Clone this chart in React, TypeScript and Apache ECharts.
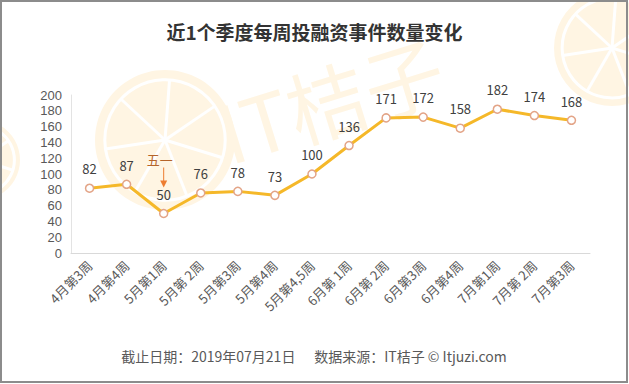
import React, { useEffect, useRef } from "react";
import * as echarts from "echarts";

const categories = [
  "4月第3周", "4月第4周", "5月第1周", "5月第 2周", "5月第3周", "5月第4周", "5月第4,5周",
  "6月第 1周", "6月第 2周", "6月第3周", "6月第4周", "7月第1周", "7月第 2周", "7月第3周",
];
const values = [82, 87, 50, 76, 78, 73, 100, 136, 171, 172, 158, 182, 174, 168];
const yTicks = [0, 20, 40, 60, 80, 100, 120, 140, 160, 180, 200];
const titleText = "近1个季度每周投融资事件数量变化";
const footerText = "截止日期：2019年07月21日      数据来源：IT桔子 © Itjuzi.com";
const noteText = "五一";
const noteIndex = 2;

const FONT = "'Noto Sans CJK SC', 'Noto Sans', sans-serif";
const NUMFONT = "'Liberation Sans', 'DejaVu Sans', sans-serif";
const WM = "#FFF5E3";

function lemon(cx: number, cy: number, r: number) {
  const children: any[] = [
    { type: "circle", shape: { cx, cy, r }, style: { fill: WM }, silent: true },
    { type: "circle", shape: { cx, cy, r: r * 0.86 }, style: { fill: "none", stroke: "#FFFFFF", lineWidth: 3 }, silent: true },
  ];
  for (let i = 0; i < 7; i++) {
    const a = (i / 7) * Math.PI * 2 + 0.3;
    children.push({
      type: "line",
      shape: { x1: cx, y1: cy, x2: cx + Math.cos(a) * r * 0.86, y2: cy + Math.sin(a) * r * 0.86 },
      style: { stroke: "#FFFFFF", lineWidth: 3 },
      silent: true,
    });
  }
  return children;
}

export default function App() {
  const ref = useRef<HTMLDivElement>(null);
  useEffect(() => {
    if (!ref.current) return;
    const chart = echarts.init(ref.current, null, { renderer: "svg" });
    const option: any = {
      animation: false,
      backgroundColor: "#FFFFFF",
      title: {
        text: titleText,
        left: "center",
        top: 17,
        textStyle: { fontFamily: FONT, fontSize: 19, fontWeight: "bold", color: "#333333" },
      },
      grid: { left: 71, right: 39, top: 95, bottom: 131, containLabel: false },
      xAxis: {
        type: "category",
        data: categories,
        boundaryGap: true,
        axisLine: { show: true, lineStyle: { color: "#D9D9D9", width: 1 } },
        axisTick: { show: false },
        axisLabel: {
          rotate: 45,
          interval: 0,
          margin: 10,
          fontFamily: FONT,
          fontSize: 13,
          color: "#595959",
        },
      },
      yAxis: {
        type: "value",
        min: 0,
        max: 200,
        interval: 20,
        axisLine: { show: true, lineStyle: { color: "#E3E3E3", width: 1 } },
        axisTick: { show: false },
        splitLine: { show: false },
        axisLabel: {
          margin: 9,
          fontFamily: NUMFONT,
          fontSize: 13,
          lineHeight: 14,
          color: "#595959",
          formatter: (v: number) => (yTicks.includes(v) ? String(v) : ""),
        },
      },
      series: [
        {
          type: "line",
          data: values,
          symbol: "circle",
          symbolSize: 8,
          showAllSymbol: true,
          lineStyle: { color: "#F5B829", width: 3 },
          itemStyle: { color: "#FFFFFF", borderColor: "#E3A487", borderWidth: 1.5 },
          label: {
            show: true,
            position: "top",
            distance: 8,
            fontFamily: FONT,
            fontSize: 13,
            color: "#404040",
          },
          z: 3,
        },
      ],
    };
    chart.setOption(option);

    const p = chart.convertToPixel({ seriesIndex: 0 }, [noteIndex, values[noteIndex]]) as number[];
    const nx = p[0];
    const ny = p[1];

    chart.setOption({
      graphic: [
        {
          type: "group",
          z: -10,
          silent: true,
          children: [
            ...lemon(165, 140, 70),
            ...lemon(612, 48, 58),
            ...lemon(-20, 160, 40),
            {
              type: "text",
              x: 330,
              y: 98,
              rotation: 0.3,
              style: {
                text: "IT桔子",
                fontFamily: FONT,
                fontSize: 80,
                fontWeight: "normal",
                fill: WM,
                align: "center",
                verticalAlign: "middle",
              },
              silent: true,
            },
          ],
        },
        {
          type: "text",
          x: nx - 4,
          y: ny - 54,
          style: {
            text: noteText,
            fontFamily: FONT,
            fontSize: 13,
            fill: "#B5642A",
            align: "center",
            verticalAlign: "middle",
          },
          z: 10,
        },
        {
          type: "line",
          shape: { x1: nx, y1: ny - 46, x2: nx, y2: ny - 32 },
          style: { stroke: "#ED7D31", lineWidth: 1 },
          z: 10,
        },
        {
          type: "polygon",
          shape: { points: [[nx - 3.5, ny - 33], [nx + 3.5, ny - 33], [nx, ny - 26]] },
          style: { fill: "#ED7D31" },
          z: 10,
        },
        {
          type: "text",
          x: 314,
          y: 356,
          style: {
            text: footerText,
            fontFamily: FONT,
            fontSize: 14,
            fill: "#595959",
            align: "center",
            verticalAlign: "middle",
          },
          z: 10,
        },
        {
          type: "rect",
          shape: { x: 1, y: 1, width: 626, height: 381 },
          style: { fill: "none", stroke: "#8C8C8C", lineWidth: 2 },
          z: 20,
          silent: true,
        },
      ],
    });

    return () => chart.dispose();
  }, []);
  return (
    <div
      ref={ref}
      style={{ position: "fixed", left: 0, top: 0, width: 629, height: 384 }}
    />
  );
}
